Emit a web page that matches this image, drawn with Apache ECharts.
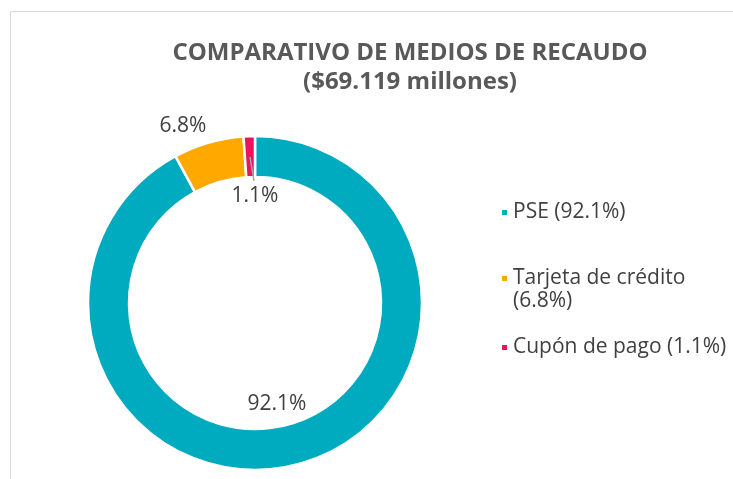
<!DOCTYPE html>
<html>
<head>
<meta charset="utf-8">
<script src="https://cdn.jsdelivr.net/npm/echarts@6/dist/echarts.min.js"></script>
<style>
  html, body { margin: 0; padding: 0; background: #fff; }
  #chart { width: 733px; height: 479px; }
</style>
</head>
<body>
<div id="chart"></div>
<script>
// medios de recaudo
var categories = ['PSE', 'Tarjeta de crédito', 'Cupón de pago'];
var values = [92.1, 6.8, 1.1];
// la linea en blanco inicial deja el icono a la altura de la primera linea
var legendLabels = ['PSE (92.1%)', ' \nTarjeta de crédito\n(6.8%)', 'Cupón de pago (1.1%)'];
var colors = ['#00abc0', '#ffa800', '#e8155e'];

// posiciones de las etiquetas de datos
var labelPos = [[277, 404], [183, 126], [255, 196]];
var legendTops = [196, 239, 331];

var myChart = echarts.init(document.getElementById('chart'));

var fontFam = 'Open Sans';

myChart.setOption({
    title: {
        text: 'COMPARATIVO DE MEDIOS DE RECAUDO\n($69.119 millones)',
        left: 405,
        top: 34,
        textAlign: 'center',
        textStyle: {
            fontFamily: fontFam,
            fontWeight: 'bold',
            fontSize: 24,
            lineHeight: 29,
            color: '#595959'
        }
    },
    graphic: [
        {
            type: 'rect',
            shape: { x: 10.5, y: 11.5, width: 800, height: 600 },
            style: { fill: 'none', stroke: '#d9d9d9', lineWidth: 1 },
            silent: true
        },
        {
            // linea guia de la etiqueta 1.1%
            type: 'polyline',
            shape: { points: [[250, 157], [254, 181]] },
            style: { stroke: '#a6a6a6', lineWidth: 1.5, fill: 'none' },
            z: 100,
            silent: true
        }
    ],
    legend: categories.map(function (name, i) {
        return {
            orient: 'vertical',
            left: 495,
            top: legendTops[i],
            icon: 'rect',
            itemWidth: 7,
            itemHeight: 7,
            itemGap: 0,
            selectedMode: false,
            data: [name],
            formatter: function () { return legendLabels[i]; },
            textStyle: {
                fontFamily: fontFam,
                fontSize: 21,
                lineHeight: 23,
                color: '#404040'
            }
        };
    }),
    series: [
        {
            type: 'pie',
            center: [255, 303],
            radius: [126, 167],
            startAngle: 90,
            clockwise: true,
            avoidLabelOverlap: false,
            itemStyle: {
                borderColor: '#ffffff',
                borderWidth: 2.5
            },
            label: {
                show: true,
                formatter: function (p) { return p.value.toFixed(1) + '%'; },
                fontFamily: fontFam,
                fontSize: 21,
                color: '#404040'
            },
            labelLine: { show: false },
            labelLayout: function (p) {
                var pos = labelPos[p.dataIndex];
                return { x: pos[0], y: pos[1], align: 'center', verticalAlign: 'middle' };
            },
            data: categories.map(function (name, i) {
                return { name: name, value: values[i], itemStyle: { color: colors[i] } };
            })
        }
    ]
});
</script>
</body>
</html>
